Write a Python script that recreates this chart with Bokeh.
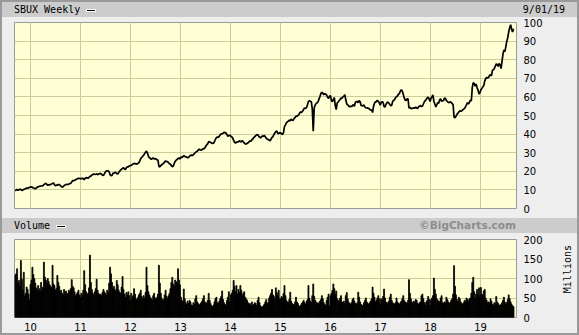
import numpy as np
import pandas as pd
from bokeh.plotting import figure
from bokeh.layouts import column, row
from bokeh.models import Div, FixedTicker, Grid, Range1d, ColumnDataSource
from bokeh.embed import file_html
from bokeh.resources import INLINE

# ---------------- data ----------------
symbol = "SBUX Weekly"
chart_date = "9/01/19"
volume_title = "Volume"
credit = "\u00a9BigCharts.com"
volume_unit = "Millions"
first_week = "2009-09-11"          # weekly points, Fridays

year_ticks = [2010, 2011, 2012, 2013, 2014, 2015, 2016, 2017, 2018, 2019]
year_labels = ["10", "11", "12", "13", "14", "15", "16", "17", "18", "19"]
price_ticks = [0, 10, 20, 30, 40, 50, 60, 70, 80, 90, 100]
volume_ticks = [0, 50, 100, 150, 200]

# weekly close (USD)
price_2009 = [9.6, 9.9, 10.2, 9.8, 10.1, 10.4, 10.2, 9.7, 9.9, 10.3, 10.5, 10.6, 11.0, 10.9, 11.2, 11.4]
price_2010 = [11.5, 11.6, 11.4, 11.0, 10.9, 10.6, 11.0, 11.5, 11.6, 11.9, 12.0, 12.1, 12.2,
              12.3, 12.9, 13.2, 13.6, 13.0, 12.4, 12.9, 12.6, 13.0, 13.2, 13.5, 13.7, 12.8,
              12.2, 12.6, 12.5, 12.9, 12.8, 12.4, 11.9, 11.5, 11.7, 12.3, 12.6, 12.9, 13.0,
              12.8, 13.2, 13.4, 13.5, 14.3, 15.0, 14.9, 15.2, 15.4, 15.8, 16.0, 16.2, 16.2, 16.1]
price_2011 = [16.0, 16.3, 16.1, 15.5, 16.3, 16.6, 16.5, 16.2, 16.8, 17.3, 17.4, 18.0,
              18.3, 18.6, 18.3, 18.4, 18.6, 18.2, 18.5, 18.7, 18.9, 18.4, 18.0, 17.7, 18.6,
              19.6, 20.1, 20.3, 20.2, 19.7, 18.2, 17.6, 17.8, 18.9, 19.1, 19.3, 19.4, 18.7, 18.6,
              19.3, 20.1, 20.6, 21.2, 21.6, 21.9, 21.3, 20.9, 22.0, 22.4, 22.3, 22.9, 23.0]
price_2012 = [23.2, 23.6, 23.9, 24.3, 24.0, 24.1, 23.8, 24.3, 24.6, 25.6, 26.8, 27.5, 28.0,
              28.6, 29.5, 30.2, 30.9, 29.8, 28.2, 27.3, 27.0, 26.4, 26.8, 27.2, 26.6, 26.8,
              26.7, 26.2, 26.0, 22.6, 22.4, 23.1, 23.5, 24.0, 24.3, 25.0, 25.6, 25.2, 25.2,
              24.6, 24.1, 23.9, 23.0, 22.5, 22.8, 24.2, 25.3, 26.0, 26.3, 26.9, 27.2, 26.6]
price_2013 = [27.6, 27.4, 27.8, 28.5, 28.0, 27.8, 27.6, 27.3, 27.5, 28.0, 28.6, 28.7, 28.5,
              28.9, 29.5, 30.0, 30.5, 30.8, 31.4, 31.9, 31.6, 31.4, 31.6, 32.2, 32.0, 32.7,
              33.5, 34.3, 34.8, 36.0, 35.8, 35.5, 35.2, 35.0, 35.1, 35.9, 37.2, 38.1, 38.4,
              38.2, 38.9, 39.6, 40.1, 40.2, 40.5, 40.9, 40.8, 40.6, 39.8, 38.8, 39.2, 39.4]
price_2014 = [38.9, 38.6, 37.8, 36.6, 35.6, 35.2, 35.7, 35.9, 35.8, 36.4, 36.0, 35.8, 36.5,
              35.9, 35.2, 34.8, 34.6, 35.0, 35.3, 35.8, 36.3, 36.2, 36.9, 37.4, 38.2, 38.6,
              39.2, 39.6, 39.8, 39.0, 38.4, 38.0, 38.5, 39.0, 38.9, 39.2, 38.6, 37.8, 37.3,
              37.1, 36.8, 36.3, 37.4, 38.2, 38.6, 39.8, 40.6, 41.4, 41.6, 40.5, 40.2, 40.8]
price_2015 = [40.6, 40.2, 39.8, 40.8, 44.1, 45.0, 46.0, 46.7, 46.9, 47.5, 47.2, 48.0, 47.5,
              47.4, 48.3, 48.8, 49.7, 49.6, 50.0, 50.5, 51.6, 51.8, 51.7, 52.4, 53.3, 54.0,
              53.8, 54.2, 55.8, 57.6, 57.9, 57.6, 57.4, 53.5, 41.5, 54.0, 55.6, 56.4, 56.8,
              57.4, 58.8, 60.2, 61.8, 62.5, 62.0, 61.2, 61.8, 61.5, 61.0, 59.8, 59.2, 60.4]
price_2016 = [60.6, 58.0, 57.5, 58.6, 59.6, 55.2, 53.2, 56.8, 57.2, 58.0, 58.6, 59.4, 59.2,
              60.0, 60.4, 61.2, 58.3, 56.2, 55.8, 55.2, 54.6, 55.0, 54.8, 55.4, 55.8, 55.0,
              57.1, 57.4, 57.6, 56.9, 58.0, 57.4, 55.4, 55.2, 55.3, 55.6, 54.5, 54.2, 54.0, 54.1,
              53.8, 53.3, 52.9, 53.0, 51.6, 55.0, 56.6, 57.4, 57.3, 58.2, 57.6, 56.9, 55.6]
price_2017 = [57.0, 57.4, 57.0, 54.8, 54.5, 56.0, 56.9, 57.2, 56.6, 55.9, 55.3, 55.5, 57.6,
              58.2, 58.5, 59.6, 60.1, 60.5, 61.4, 61.8, 63.2, 63.8, 63.2, 61.4, 59.6, 58.3,
              58.0, 58.9, 59.0, 54.0, 54.5, 53.7, 53.8, 53.9, 54.2, 53.9, 54.6, 54.0, 53.7,
              54.6, 55.1, 55.3, 54.8, 55.0, 56.2, 57.4, 58.0, 58.6, 59.5, 59.8, 58.9, 57.5]
price_2018 = [59.4, 60.1, 61.0, 57.4, 56.2, 54.6, 55.8, 57.0, 56.6, 58.4, 59.0, 57.6, 57.9,
              58.1, 59.4, 59.2, 58.0, 57.6, 57.1, 56.9, 57.4, 57.0, 56.5, 55.8, 49.2, 48.8,
              49.6, 50.6, 51.3, 51.9, 52.5, 52.3, 52.4, 53.1, 53.4, 53.9, 54.8, 55.8, 56.9,
              56.2, 57.0, 58.3, 57.8, 65.0, 67.6, 67.2, 65.8, 66.9, 64.9, 63.8, 61.5, 62.2]
price_2019 = [63.8, 64.6, 65.4, 66.1, 68.6, 69.8, 70.5, 70.2, 70.5, 71.6, 72.0, 71.3, 74.3,
              74.6, 75.3, 76.5, 77.8, 77.3, 76.4, 77.9, 77.2, 75.2, 79.0, 83.0, 85.2, 84.3,
              87.0, 90.0, 91.8, 95.0, 97.2, 98.8, 96.4, 94.9, 96.6]

# weekly volume (millions of shares)
vol_2009 = [108, 112, 125, 88, 95, 80, 146, 98, 70, 116, 55, 62, 78, 72, 60, 45]
vol_2010 = [85, 96, 129, 110, 100, 88, 76, 70, 82, 74, 68, 90, 72, 78, 142, 104, 96, 88,
            100, 92, 84, 80, 76, 134, 86, 82, 70, 74, 108, 90, 80, 66, 70, 62, 58,
            72, 64, 68, 60, 62, 70, 66, 74, 97, 80, 76, 66, 56, 60, 64, 70, 58, 52]
vol_2011 = [62, 58, 70, 120, 84, 66, 60, 62, 76, 160, 90, 72, 62, 58, 66, 74, 98,
            70, 62, 58, 60, 56, 64, 72, 66, 62, 58, 70, 64, 88, 129, 112, 90, 74,
            80, 72, 66, 95, 84, 70, 64, 62, 78, 105, 72, 60, 52, 64, 58, 66, 56, 44]
vol_2012 = [62, 50, 56, 74, 60, 48, 44, 52, 58, 62, 70, 54, 48, 56, 50, 64, 129,
            82, 66, 58, 52, 48, 44, 56, 62, 50, 46, 52, 60, 134, 88, 62, 50, 44, 46,
            58, 70, 54, 48, 56, 62, 74, 90, 103, 86, 80, 96, 92, 88, 125, 96, 84]
vol_2013 = [52, 44, 40, 73, 48, 38, 34, 42, 36, 44, 40, 32, 30, 38, 34, 48, 56,
            40, 36, 32, 34, 38, 42, 48, 56, 40, 36, 38, 44, 62, 44, 36, 30, 28, 32,
            40, 48, 52, 38, 36, 42, 48, 54, 68, 46, 38, 34, 30, 44, 52, 66, 40]
vol_2014 = [58, 62, 70, 95, 80, 66, 82, 60, 72, 64, 82, 70, 56, 62, 66, 52, 48,
            44, 38, 34, 36, 32, 40, 30, 34, 38, 36, 30, 44, 52, 38, 30, 26, 28, 30,
            34, 40, 46, 36, 38, 50, 56, 62, 72, 58, 54, 46, 76, 64, 58, 70, 48]
vol_2015 = [48, 54, 50, 62, 82, 56, 44, 40, 38, 46, 65, 42, 36, 34, 32, 40, 52,
            40, 36, 30, 28, 32, 36, 40, 44, 38, 34, 42, 46, 82, 50, 42, 38, 56, 86,
            54, 44, 40, 36, 38, 34, 42, 46, 56, 48, 38, 34, 30, 44, 52, 60, 30]
vol_2016 = [56, 62, 70, 86, 74, 60, 68, 48, 44, 42, 50, 56, 40, 38, 42, 36, 56, 64,
            48, 40, 36, 34, 38, 46, 50, 42, 36, 34, 38, 65, 52, 40, 34, 30, 32,
            38, 44, 50, 40, 36, 34, 38, 42, 48, 78, 62, 52, 40, 44, 50, 56, 48, 36]
vol_2017 = [48, 44, 54, 73, 50, 40, 36, 38, 42, 52, 60, 44, 38, 36, 34, 38, 50,
            40, 36, 34, 38, 42, 48, 56, 44, 40, 38, 36, 44, 97, 62, 48, 40, 36,
            42, 38, 46, 44, 36, 34, 38, 40, 56, 60, 48, 38, 32, 40, 44, 54, 46, 30]
vol_2018 = [46, 50, 56, 101, 72, 60, 48, 44, 42, 40, 50, 56, 38, 36, 40, 38, 52,
            46, 40, 36, 38, 44, 48, 60, 133, 80, 58, 46, 40, 52, 48, 40, 36, 34, 38,
            44, 40, 50, 46, 42, 48, 50, 62, 90, 103, 66, 50, 60, 72, 58, 76, 54]
vol_2019 = [77, 60, 56, 68, 72, 50, 44, 38, 40, 36, 48, 42, 34, 32, 38, 36, 54,
            40, 36, 32, 30, 34, 38, 44, 52, 40, 34, 38, 46, 58, 48, 40, 34, 30, 28]

price = (price_2009 + price_2010 + price_2011 + price_2012 + price_2013 + price_2014 +
         price_2015 + price_2016 + price_2017 + price_2018 + price_2019)
volume = (vol_2009 + vol_2010 + vol_2011 + vol_2012 + vol_2013 + vol_2014 +
          vol_2015 + vol_2016 + vol_2017 + vol_2018 + vol_2019)


def decimal_years(n):
    d = pd.date_range(first_week, periods=n, freq="7D")
    days = np.where(d.is_leap_year, 366.0, 365.0)
    return np.asarray(d.year + (d.dayofyear - 1) / days, dtype=float)


# ---------------- style ----------------
BG = "#ffffd6"
GRID = "#cccc99"
OUTER = "#eeeeee"
BAR = "#cccccc"
MONO = "DejaVu Sans Mono"
SANS = "DejaVu Sans"

x_range = Range1d(2009.68, 2019.72)


def style_axis(ax, standoff):
    ax.axis_line_color = None
    ax.major_tick_line_color = None
    ax.minor_tick_line_color = None
    ax.major_tick_in = 0
    ax.major_tick_out = 0
    ax.minor_tick_in = 0
    ax.minor_tick_out = 0
    ax.major_label_standoff = standoff
    ax.major_label_text_font = SANS
    ax.major_label_text_font_size = "10px"
    ax.major_label_text_color = "black"


# price panel
p1 = figure(width=575, height=201, x_range=x_range, y_range=Range1d(0, 100),
            x_axis_location=None, y_axis_location="right",
            toolbar_location=None, output_backend="svg",
            min_border_left=12, min_border_right=61, min_border_top=5, min_border_bottom=10,
            background_fill_color=BG, border_fill_color=OUTER,
            outline_line_color="#9a9a9a")
p1.add_layout(Grid(dimension=0, ticker=FixedTicker(ticks=year_ticks),
                   grid_line_color=GRID, grid_line_width=1))
p1.yaxis.ticker = FixedTicker(ticks=price_ticks)
p1.ygrid.grid_line_color = GRID
style_axis(p1.yaxis[0], 7)
src_p = ColumnDataSource(dict(x=decimal_years(len(price)), y=price))
p1.line(x="x", y="y", source=src_p, line_color="black", line_width=1.7)

# volume panel (narrower; the unit label sits in a small Div at its right)
p2 = figure(width=557, height=100, x_range=x_range, y_range=Range1d(0, 200),
            y_axis_location="right",
            toolbar_location=None, output_backend="svg",
            min_border_left=12, min_border_right=43, min_border_top=6, min_border_bottom=16,
            background_fill_color=BG, border_fill_color=OUTER,
            outline_line_color="#9a9a9a")
p2.xaxis.ticker = FixedTicker(ticks=year_ticks)
p2.xaxis.major_label_overrides = dict(zip(year_ticks, year_labels))
p2.yaxis.ticker = FixedTicker(ticks=volume_ticks)
p2.xgrid.grid_line_color = GRID
p2.ygrid.grid_line_color = GRID
style_axis(p2.xaxis[0], 5)
style_axis(p2.yaxis[0], 7)
src_v = ColumnDataSource(dict(x=decimal_years(len(volume)), top=volume))
p2.vbar(x="x", top="top", bottom=0, width=7.0 / 365.25, source=src_v,
        fill_color="black", line_color="black", line_width=0.8)

unit_div = Div(width=18, height=100, margin=0, styles={"background-color": OUTER},
               text=('<div style="width:18px;height:100px;display:flex;align-items:center;'
                     'justify-content:center;">'
                     f'<span style="writing-mode:vertical-rl;transform:rotate(180deg);'
                     f'font-family:\'{MONO}\';font-size:10px;color:#000;margin-bottom:28px;'
                     f'line-height:12px;">{volume_unit}</span></div>'))

swatch = ('<span style="display:inline-block;width:10px;height:3px;background:#000;'
          'border:1px solid #fff;margin-left:6px;vertical-align:middle;"></span>')

head_style = {"background-color": BAR, "font-family": MONO, "font-size": "10px",
              "color": "#000"}
div1 = Div(width=575, height=15, margin=0, styles=head_style,
           text=('<div style="display:flex;justify-content:space-between;align-items:center;'
                 'box-sizing:border-box;width:575px;height:15px;line-height:15px;'
                 'padding:0 12px 0 12px;">'
                 f'<span>{symbol}{swatch}</span><span>{chart_date}</span></div>'))
div2 = Div(width=575, height=15, margin=0, styles=head_style,
           text=('<div style="display:flex;justify-content:space-between;align-items:center;'
                 'box-sizing:border-box;width:575px;height:15px;line-height:15px;'
                 'padding:0 61px 0 12px;">'
                 f'<span>{volume_title}{swatch}</span>'
                 f'<span style="font-family:\'{SANS}\';font-weight:bold;font-size:10.5px;'
                 f'color:#8c8c8c;">{credit}</span></div>'))

layout = column(div1, p1, div2, row(p2, unit_div, spacing=0), spacing=0,
                styles={"border": "2px solid #9a9a9a", "background-color": OUTER})

open("out.html", "w").write(file_html(layout, INLINE))
